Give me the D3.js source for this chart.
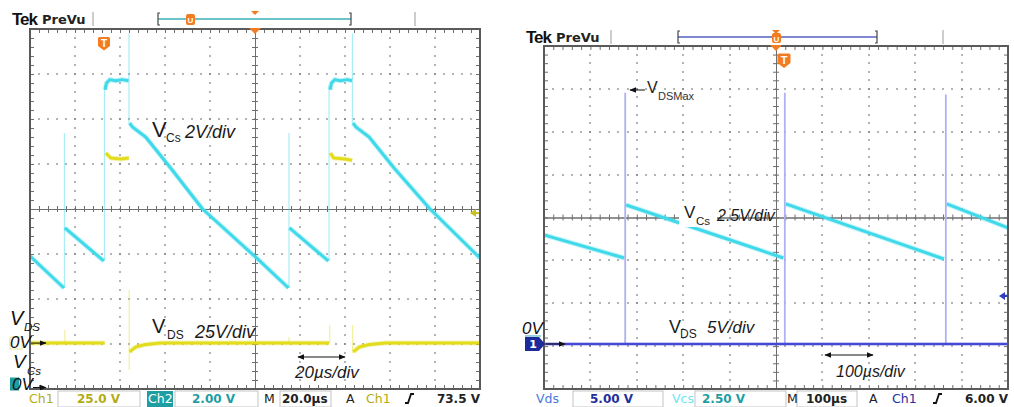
<!DOCTYPE html>
<html><head><meta charset="utf-8">
<script src="https://cdn.jsdelivr.net/npm/d3@7"></script>
<style>body{margin:0;background:#fff;}svg{display:block;}</style>
</head><body>
<svg id="c" width="1014" height="407"></svg>
<script>
// ===== DATA =====
// Left scope: 20 µs/div, CH1 = VDS (25 V/div), CH2 = VCs (2 V/div). null = trace gap.
const leftVcsTime  = [0, 15.1, 15.3, 15.5, 32.8, 33.1, 33.4, 34.0, 35.5, 38, 41, 43.8, 44.0, 44.3, 45.6, 51.4, 62.5, 76.7, 100.2, 114.9, 115.1, 115.3, 132.6, 132.9, 133.4, 134.0, 135.5, 138, 141, 143.1, 143.3, 143.6, 144.9, 150.7, 161.8, 177.8, 200];
const leftVcsVolts = [5.71, 4.29, null, 6.96, 5.49, null, 13.1, 13.4, 13.55, 13.5, 13.55, 13.5, null, 11.62, 11.44, 11.0, 9.62, 7.8, 5.67, 4.29, null, 6.96, 5.49, null, 13.1, 13.4, 13.55, 13.5, 13.55, 13.5, null, 11.62, 11.44, 11.0, 9.62, 7.8, 5.62];
const leftVdsTime  = [0, 33.2, 33.5, 33.7, 35.9, 40.4, 43.9, 44.1, 44.3, 45.5, 47.0, 49.5, 51.4, 55, 58, 133.0, 133.3, 133.5, 135.0, 140.0, 143.2, 143.4, 143.7, 144.9, 146.4, 149, 151, 154.5, 158, 200];
const leftVdsVolts = [0, 0, null, 105.6, 102.8, 102.3, 102.8, null, -4.9, -3.6, -2.2, -1.3, -0.8, -0.3, 0, 0, null, 105.6, 102.8, 102.3, 101.5, null, -4.9, -3.6, -2.2, -1.3, -0.8, -0.3, 0, 0];
const leftVcsEdgeTime = [15.3, 33.1, 44.0, 115.1, 132.9, 143.3];
const leftVcsEdgeLow  = [4.29, 5.49, 11.6, 4.29, 5.49, 11.6];
const leftVcsEdgeHigh = [11.18, 13.3, 15.6, 11.18, 13.3, 15.6];
const leftVdsEdgeTime = [15.5, 44.1, 115.1, 133.2, 143.4];
const leftVdsEdgeLow  = [0, -14.9, 0, 0, -5.5];
const leftVdsEdgeHigh = [7.3, 29.5, 3.4, 10.1, 10.1];

// Right scope: 100 µs/div, CH1 = VDS (5 V/div), CH2 = VCs (2.5 V/div)
const rightVcsTime  = [0, 173, 175, 177, 516, 518, 521, 862, 864, 868, 1000];
const rightVcsVolts = [8.98, 7.64, null, 10.73, 7.64, null, 10.79, 7.58, null, 10.79, 9.39];
const rightVdsTime  = [0, 1000];
const rightVdsVolts = [0, 0];
const rightSpikeTime = [175, 519, 866];
const rightSpikePeak = [29.3, 29.3, 29.1];

// Readout texts
const leftReadout  = ["Ch1", "25.0 V", "Ch2", "2.00 V", "M", "20.0µs", "A", "Ch1", "73.5 V"];
const rightReadout = ["Vds", "5.00 V", "Vcs", "2.50 V", "M", "100µs", "A", "Ch1", "6.00 V"];

// ===== DRAW =====
const svg = d3.select("#c");
svg.append("rect").attr("width", 1014).attr("height", 407).attr("fill", "#fff");
const defs = svg.append("defs");
defs.append("marker").attr("id", "ah").attr("viewBox", "0 0 10 10").attr("refX", 9).attr("refY", 5)
  .attr("markerWidth", 7).attr("markerHeight", 7).attr("orient", "auto-start-reverse")
  .append("path").attr("d", "M0,1L10,5L0,9Z").attr("fill", "#111");

const SANS = "'Liberation Sans', Arial, sans-serif";
const DJ = "'DejaVu Sans', Verdana, sans-serif";
const CYAN = "#3fd9ea", YEL = "#e2dc1c", BLUE = "#4848d6", LAV = "#aeb2f2", ORANGE = "#f47c20";

function scope(cfg, id) {
  const g = svg.append("g");
  const xDiv = d3.scaleLinear().domain([0, 10]).range([cfg.x0, cfg.x1]);
  const yDiv = d3.scaleLinear().domain([-4, 4]).range([cfg.y1, cfg.y0]);
  const xT = d3.scaleLinear().domain([0, 10 * cfg.tdiv]).range([cfg.x0, cfg.x1]);
  const chY = ch => d3.scaleLinear().domain([(-4 - ch.offset) * ch.vdiv, (4 - ch.offset) * ch.vdiv]).range([cfg.y1, cfg.y0]);

  // grid dots
  const dots = [];
  [1, 2, 3, 4, 6, 7, 8, 9].forEach(i => d3.range(1, 40).forEach(j => dots.push([i, -4 + j * 0.2])));
  [-3, -2, -1, 1, 2, 3].forEach(k => d3.range(1, 50).forEach(j => dots.push([j * 0.2, k])));
  g.append("g").selectAll("rect").data(dots).join("rect")
    .attr("x", d => Math.round(xDiv(d[0])) - 0.75).attr("y", d => Math.round(yDiv(d[1])) - 0.75)
    .attr("width", 1.5).attr("height", 1.5).attr("fill", "#7a7a7a");

  const minorX = d3.range(1, 50).map(i => i * 0.2);
  const minorY = d3.range(1, 40).map(i => -4 + i * 0.2);
  const styleAxis = (sel, showDomain) => {
    sel.selectAll(".tick line").attr("stroke", "#6e6e6e");
    sel.select(".domain").attr("stroke", showDomain ? "#6e6e6e" : "none");
  };
  // center crosshair
  [d3.axisTop, d3.axisBottom].forEach(a => g.append("g").attr("transform", `translate(0,${yDiv(0)})`)
    .call(a(xDiv).tickValues(minorX).tickSizeInner(3).tickSizeOuter(0).tickFormat(""))
    .call(s => styleAxis(s, true)));
  [d3.axisLeft, d3.axisRight].forEach(a => g.append("g").attr("transform", `translate(${xDiv(5)},0)`)
    .call(a(yDiv).tickValues(minorY).tickSizeInner(3).tickSizeOuter(0).tickFormat(""))
    .call(s => styleAxis(s, true)));
  // frame ticks (inward)
  g.append("g").attr("transform", `translate(0,${cfg.y0})`).call(d3.axisBottom(xDiv).tickValues(minorX).tickSize(4).tickFormat("")).call(s => styleAxis(s, false));
  g.append("g").attr("transform", `translate(0,${cfg.y1})`).call(d3.axisTop(xDiv).tickValues(minorX).tickSize(4).tickFormat("")).call(s => styleAxis(s, false));
  g.append("g").attr("transform", `translate(${cfg.x0},0)`).call(d3.axisRight(yDiv).tickValues(minorY).tickSize(4).tickFormat("")).call(s => styleAxis(s, false));
  g.append("g").attr("transform", `translate(${cfg.x1},0)`).call(d3.axisLeft(yDiv).tickValues(minorY).tickSize(4).tickFormat("")).call(s => styleAxis(s, false));

  // clip
  defs.append("clipPath").attr("id", "clip" + id).append("rect")
    .attr("x", cfg.x0).attr("y", cfg.y0).attr("width", cfg.x1 - cfg.x0).attr("height", cfg.y1 - cfg.y0);
  const tg = g.append("g").attr("clip-path", `url(#clip${id})`);

  return { g, tg, xDiv, yDiv, xT, chY };
}

function trace(sc, ys, times, volts, color, w) {
  const data = d3.zip(times, volts);
  const line = d3.line().defined(d => d[1] !== null).x(d => sc.xT(d[0])).y(d => ys(d[1]));
  sc.tg.append("path").datum(data).attr("d", line).attr("fill", "none").attr("stroke", color)
    .attr("stroke-width", w + 2).attr("stroke-opacity", 0.3).attr("stroke-linejoin", "round");
  sc.tg.append("path").datum(data).attr("d", line).attr("fill", "none").attr("stroke", color)
    .attr("stroke-width", w).attr("stroke-linejoin", "round");
}
function edges(sc, ys, times, lows, highs, color, w, op) {
  sc.tg.append("g").selectAll("line").data(d3.zip(times, lows, highs)).join("line")
    .attr("x1", d => sc.xT(d[0])).attr("x2", d => sc.xT(d[0]))
    .attr("y1", d => ys(d[1])).attr("y2", d => ys(d[2]))
    .attr("stroke", color).attr("stroke-width", w).attr("stroke-opacity", op);
}
function frame(sc, cfg) {
  sc.g.append("rect").attr("x", cfg.x0).attr("y", cfg.y0).attr("width", cfg.x1 - cfg.x0).attr("height", cfg.y1 - cfg.y0)
    .attr("fill", "none").attr("stroke", "#5a5a5a").attr("stroke-width", 2);
}
function txt(x, y, s, o = {}) {
  return svg.append("text").attr("x", x).attr("y", y).text(s)
    .attr("font-family", o.ff || SANS).attr("font-size", o.fs || 12)
    .attr("font-weight", o.fw || "normal").attr("font-style", o.it ? "italic" : "normal")
    .attr("fill", o.fill || "#111").attr("text-anchor", o.anchor || "start")
    .attr("letter-spacing", o.ls || 0);
}
function trig(x, y, s) {
  svg.append("path").attr("d", `M${x - s / 2},${y - s / 2 + 1.5}q0,-1.5 1.5,-1.5h${s - 3}q1.5,0 1.5,1.5v${s * 0.62}l${-s / 2},${s * 0.38}l${-s / 2},${-s * 0.38}Z`).attr("fill", ORANGE);
  txt(x, y + s * 0.32, "T", { fs: s * 0.85, fw: "bold", fill: "#fff", anchor: "middle" });
}
function header(cfg, hy, barColor) {
  txt(cfg.x0 - 18, hy + 6, "Tek", { fs: 17, fw: "bold", ls: -1 });
  txt(cfg.x0 + 12, hy + 5, "PreVu", { ff: DJ, fs: 13, fw: "bold", fill: "#222" });
  [cfg.sep1, cfg.sep2].forEach(x => svg.append("line").attr("x1", x).attr("x2", x).attr("y1", hy - 7).attr("y2", hy + 7).attr("stroke", "#bdbdbd").attr("stroke-width", 1.5));
  svg.append("line").attr("x1", cfg.b0).attr("x2", cfg.b1).attr("y1", hy).attr("y2", hy).attr("stroke", barColor).attr("stroke-width", 2);
  [[cfg.b0, 2], [cfg.b1, -2]].forEach(([x, d]) => svg.append("path")
    .attr("d", `M${x + d},${hy - 6}h${-d}v12h${d}`).attr("fill", "none").attr("stroke", "#444").attr("stroke-width", 1.2));
}
function box(x0, x1) {
  svg.append("rect").attr("x", x0).attr("y", 391).attr("width", x1 - x0).attr("height", 16)
    .attr("fill", "none").attr("stroke", "#c4c4c4").attr("stroke-width", 1);
}
function dblArrow(x0, x1, y) {
  svg.append("line").attr("x1", x0).attr("x2", x1).attr("y1", y).attr("y2", y).attr("stroke", "#111").attr("stroke-width", 1)
    .attr("marker-start", "url(#ah)").attr("marker-end", "url(#ah)");
}
function arrow(x0, x1, y) {
  svg.append("line").attr("x1", x0).attr("x2", x1).attr("y1", y).attr("y2", y).attr("stroke", "#111").attr("stroke-width", 1)
    .attr("marker-end", "url(#ah)");
}

// ---------- LEFT SCOPE ----------
const L = { x0: 30, x1: 480, y0: 29, y1: 389, tdiv: 20, sep1: 93, sep2: 415, b0: 158, b1: 351 };
const sl = scope(L, "L");
const lVds = sl.chY({ vdiv: 25, offset: -2.98 });
const lVcs = sl.chY({ vdiv: 2, offset: -3.9 });
edges(sl, lVcs, leftVcsEdgeTime, leftVcsEdgeLow, leftVcsEdgeHigh, CYAN, 1.2, 0.45);
edges(sl, lVds, leftVdsEdgeTime, leftVdsEdgeLow, leftVdsEdgeHigh, YEL, 1.2, 0.45);
trace(sl, lVds, leftVdsTime, leftVdsVolts, YEL, 3);
trace(sl, lVcs, leftVcsTime, leftVcsVolts, CYAN, 3);
frame(sl, L);
header(L, 19, "#6cc4c8");
// header markers
svg.append("rect").attr("x", 186).attr("y", 14).attr("width", 9).attr("height", 11).attr("rx", 2).attr("fill", ORANGE);
txt(190.5, 23, "U", { fs: 8, fw: "bold", fill: "#fff", anchor: "middle" });
svg.append("path").attr("d", `M${sl.xDiv(5) - 4},11h8l-4,4Z`).attr("fill", ORANGE);
svg.append("path").attr("d", `M${sl.xDiv(5) - 6},${L.y0 - 1}h12l-6,6Z`).attr("fill", ORANGE);
trig(104, 43, 12);
// right-edge level marker
svg.append("path").attr("d", `M${L.x1 - 10},${lVds(0) - 130}l6,-4v8Z`).attr("fill", "#c8c020");
svg.append("line").attr("x1", L.x1 - 5).attr("x2", L.x1 - 1).attr("y1", lVds(0) - 130).attr("y2", lVds(0) - 130).attr("stroke", "#c8c020").attr("stroke-width", 2);
// ground markers
svg.append("rect").attr("x", 10).attr("y", lVds(0) - 6).attr("width", 12).attr("height", 12).attr("fill", "none").attr("stroke", "#e8e4a0").attr("stroke-width", 1);
svg.append("rect").attr("x", 10).attr("y", lVcs(0) - 7).attr("width", 9).attr("height", 13).attr("fill", "#1d9ea2");
// annotations
txt(10, 325, "V", { fs: 20, it: true });
txt(24, 331, "DS", { fs: 11.5, it: true });
txt(10, 348, "0V", { fs: 17, it: true });
arrow(31, 46, lVds(0));
txt(13, 368, "V", { fs: 19, it: true });
txt(27, 375, "Cs", { fs: 11.5, it: true });
txt(12, 390, "0V", { fs: 17, it: true });
arrow(33, 46, lVcs(0) + 3);
txt(152, 137, "V", { fs: 22, fill: "#1a1a1a" });
txt(166, 142, "Cs", { fs: 12, fill: "#1a1a1a" });
txt(185, 138, "2V/div", { fs: 18, it: true, fill: "#1a1a1a" });
txt(152, 333, "V", { fs: 20, fill: "#1a1a1a" });
txt(167, 339, "DS", { fs: 12, fill: "#1a1a1a" });
txt(195, 338, "25V/div", { fs: 18, it: true, fill: "#1a1a1a" });
dblArrow(298, 345, 357);
txt(295, 378, "20µs/div", { fs: 17, it: true, fill: "#1a1a1a" });
// readout
box(58, 140); box(175, 258); box(280, 331);
svg.append("rect").attr("x", 147).attr("y", 391).attr("width", 26).attr("height", 16).attr("fill", "#1d9ea2");
const OLIVE = "#b3ac12", TEAL = "#1d9ea2";
txt(29, 403, leftReadout[0], { ff: DJ, fs: 12.5, fill: OLIVE });
txt(77, 403, leftReadout[1], { ff: DJ, fs: 12, fw: "bold", fill: OLIVE });
txt(148, 403, leftReadout[2], { ff: DJ, fs: 12.5, fill: "#fff" });
txt(192, 403, leftReadout[3], { ff: DJ, fs: 12, fw: "bold", fill: TEAL });
txt(264, 403, leftReadout[4], { ff: DJ, fs: 12.5, fill: "#222" });
txt(282, 403, leftReadout[5], { ff: DJ, fs: 12, fw: "bold", fill: "#222" });
txt(346, 403, leftReadout[6], { ff: DJ, fs: 12.5, fill: "#222" });
txt(366, 403, leftReadout[7], { ff: DJ, fs: 12.5, fill: OLIVE });
svg.append("path").attr("d", "M405,403h3l3,-9h3").attr("fill", "none").attr("stroke", "#111").attr("stroke-width", 1.8);
txt(480, 403, leftReadout[8], { ff: DJ, fs: 12, fw: "bold", fill: "#222", anchor: "end" });

// ---------- RIGHT SCOPE ----------
const R = { x0: 544, x1: 1008, y0: 46, y1: 389, tdiv: 100, sep1: 611, sep2: 943, b0: 678, b1: 877 };
const sr = scope(R, "R");
const rVds = sr.chY({ vdiv: 5, offset: -2.95 });
const rVcs = sr.chY({ vdiv: 2.5, offset: -4 });
trace(sr, rVcs, rightVcsTime, rightVcsVolts, CYAN, 3);
sr.tg.append("g").selectAll("line").data(d3.zip(rightSpikeTime, rightSpikePeak)).join("line")
  .attr("x1", d => sr.xT(d[0])).attr("x2", d => sr.xT(d[0])).attr("y1", rVds(0)).attr("y2", d => rVds(d[1]))
  .attr("stroke", LAV).attr("stroke-width", 1.8);
trace(sr, rVds, rightVdsTime, rightVdsVolts, BLUE, 2.2);
frame(sr, R);
header(R, 37, "#8088d4");
svg.append("path").attr("d", `M${sr.xDiv(5) - 4},30h8l-4,4Z`).attr("fill", ORANGE);
svg.append("rect").attr("x", sr.xDiv(5) - 4).attr("y", 33).attr("width", 9).attr("height", 10).attr("rx", 2).attr("fill", ORANGE);
txt(sr.xDiv(5) + 0.5, 41.5, "U", { fs: 8, fw: "bold", fill: "#fff", anchor: "middle" });
svg.append("path").attr("d", `M${sr.xDiv(5) - 6},${R.y0 - 1}h12l-6,6Z`).attr("fill", ORANGE);
trig(784, 60, 13);
// right level marker
svg.append("path").attr("d", `M${R.x1 - 9},${rVds(0) - 48}l6,-4v8Z`).attr("fill", "#3040c0");
svg.append("line").attr("x1", R.x1 - 4).attr("x2", R.x1).attr("y1", rVds(0) - 48).attr("y2", rVds(0) - 48).attr("stroke", "#3040c0").attr("stroke-width", 2);
// ground marker "1"
svg.append("path").attr("d", `M525,${rVds(0) - 7}h14l6,7l-6,7h-14Z`).attr("fill", "#1c2a9a");
svg.append("line").attr("x1", 525).attr("x2", 541).attr("y1", rVds(0) - 8).attr("y2", rVds(0) - 8).attr("stroke", "#5ab8c0").attr("stroke-width", 1.2);
txt(533, rVds(0) + 4.5, "1", { ff: DJ, fs: 11, fw: "bold", fill: "#fff", anchor: "middle" });
arrow(546, 565, rVds(0));
txt(522, 334, "0V", { fs: 17, it: true });
// annotations
arrow(645, 630, 90);
txt(647, 93, "V", { fs: 16, fill: "#222" });
txt(658, 100, "DSMax", { fs: 11, fill: "#333" });
svg.append("rect").attr("x", 679).attr("y", 205).attr("width", 38).attr("height", 22).attr("fill", "#fff");
txt(684, 218, "V", { fs: 17, fill: "#1a1a1a" });
txt(696, 225, "Cs", { fs: 11.5, fill: "#222" });
txt(717, 221, "2.5V/div", { fs: 16, it: true, fill: "#1a1a1a" });
txt(669, 333, "V", { fs: 18, fill: "#1a1a1a" });
txt(680, 338, "DS", { fs: 12, fill: "#222" });
txt(707, 333, "5V/div", { fs: 17, it: true, fill: "#1a1a1a" });
dblArrow(825, 873, 355);
txt(836, 377, "100µs/div", { fs: 16, it: true, fill: "#1a1a1a" });
// readout
box(573, 663); box(695, 786); box(797, 857);
txt(536, 403, rightReadout[0], { ff: DJ, fs: 12.5, fill: "#4a78dc" });
txt(590, 403, rightReadout[1], { ff: DJ, fs: 12, fw: "bold", fill: "#23309c" });
txt(672, 403, rightReadout[2], { ff: DJ, fs: 12.5, fill: "#6ee6f0" });
txt(702, 403, rightReadout[3], { ff: DJ, fs: 12, fw: "bold", fill: TEAL });
txt(787, 403, rightReadout[4], { ff: DJ, fs: 12.5, fill: "#222" });
txt(806, 403, rightReadout[5], { ff: DJ, fs: 12, fw: "bold", fill: "#222" });
txt(869, 403, rightReadout[6], { ff: DJ, fs: 12.5, fill: "#222" });
txt(892, 403, rightReadout[7], { ff: DJ, fs: 12.5, fill: "#23309c" });
svg.append("path").attr("d", "M933,403h3l3,-9h3").attr("fill", "none").attr("stroke", "#111").attr("stroke-width", 1.8);
txt(1008, 403, rightReadout[8], { ff: DJ, fs: 12, fw: "bold", fill: "#222", anchor: "end" });
</script>
</body></html>
